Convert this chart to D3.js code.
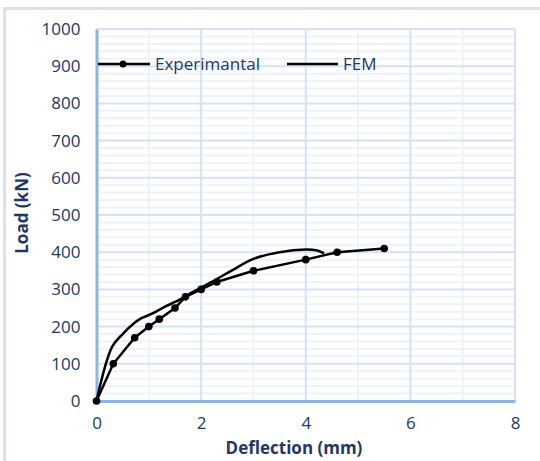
<!DOCTYPE html>
<html>
<head>
<meta charset="utf-8">
<script src="https://cdn.jsdelivr.net/npm/d3@7"></script>
<style>
  body { margin: 0; background: #fff; }
  svg { display: block; font-family: "Open Sans", Lato, sans-serif; }
</style>
</head>
<body>
<svg id="chart" width="540" height="461"></svg>
<script>
// experimental test points (mm, kN)
const expDefl = [0, 0.32, 0.73, 1.0, 1.2, 1.5, 1.7, 2.0, 2.3, 3.0, 4.0, 4.6, 5.5]
const expLoad = [0, 100, 170, 200, 220, 250, 280, 300, 320, 350, 380, 400, 410]

// FEM curve
const femDefl = [0, 0.3, 0.5, 0.7, 0.85, 1.05, 1.3, 1.6, 1.8, 2.0, 2.3, 2.6, 3.0, 3.5, 4.0, 4.2, 4.35]
const femLoad = [0, 146, 180, 207, 222, 234, 253, 273, 290, 305, 328, 352, 382, 400, 407, 405, 397]

const xTicks = [0, 2, 4, 6, 8]
const yTicks = [0, 100, 200, 300, 400, 500, 600, 700, 800, 900, 1000]

const textColor = '#203864'
const fontSize = '17px'
const svg = d3.select('#chart')

const x = d3.scaleLinear().domain([0, 8]).range([96.5, 515])
const y = d3.scaleLinear().domain([0, 1000]).range([401, 29])

// outer chart border (only top + left visible)
svg.append('path')
  .attr('d', 'M4.5,461 L4.5,8.5 L540,8.5')
  .attr('fill', 'none')
  .attr('stroke', '#d7e3f3')
  .attr('stroke-width', 3)

// gridlines: minor first, then major
const grid = svg.append('g')
grid.selectAll('.hmin')
  .data(d3.range(0, 1001, 20).filter(v => v % 100 !== 0))
  .join('line')
  .attr('x1', x(0)).attr('x2', x(8))
  .attr('y1', d => y(d)).attr('y2', d => y(d))
  .attr('stroke', '#eef3fa').attr('stroke-width', 2)
grid.selectAll('.vmin')
  .data([1, 3, 5, 7])
  .join('line')
  .attr('x1', d => x(d)).attr('x2', d => x(d))
  .attr('y1', y(0)).attr('y2', y(1000))
  .attr('stroke', '#eef3fa').attr('stroke-width', 2)
grid.selectAll('.hmaj')
  .data(yTicks.slice(1))
  .join('line')
  .attr('x1', x(0)).attr('x2', x(8))
  .attr('y1', d => y(d)).attr('y2', d => y(d))
  .attr('stroke', '#d5e2f3').attr('stroke-width', 2)
grid.selectAll('.vmaj')
  .data(xTicks.slice(1))
  .join('line')
  .attr('x1', d => x(d)).attr('x2', d => x(d))
  .attr('y1', y(0)).attr('y2', y(1000))
  .attr('stroke', '#d5e2f3').attr('stroke-width', 2)

// axes
const xAxis = svg.append('g')
  .attr('transform', `translate(0,${y(0)})`)
  .call(d3.axisBottom(x).tickValues(xTicks).tickFormat(d3.format('d')).tickSize(0).tickPadding(16))
const yAxis = svg.append('g')
  .attr('transform', `translate(${x(0)},0)`)
  .call(d3.axisLeft(y).tickValues(yTicks).tickFormat(d3.format('d')).tickSize(0).tickPadding(16))
for (const ax of [xAxis, yAxis]) {
  ax.select('.domain').attr('stroke', '#8db4e2').attr('stroke-width', 3)
  ax.selectAll('text')
    .attr('fill', textColor)
    .style('font-size', fontSize)
    .style('font-family', '"Open Sans", sans-serif')
}

// axis titles
svg.append('text')
  .attr('x', 294).attr('y', 454)
  .attr('text-anchor', 'middle')
  .attr('fill', textColor)
  .style('font-size', fontSize).style('font-weight', 'bold')
  .text('Deflection (mm)')
svg.append('text')
  .attr('transform', 'translate(28,213) rotate(-90)')
  .attr('text-anchor', 'middle')
  .attr('fill', textColor)
  .style('font-size', fontSize).style('font-weight', 'bold')
  .text('Load (kN)')

// series
const expData = expDefl.map((d, i) => ({ x: d, y: expLoad[i] }))
const femData = femDefl.map((d, i) => ({ x: d, y: femLoad[i] }))

svg.append('path')
  .attr('d', d3.line().x(d => x(d.x)).y(d => y(d.y)).curve(d3.curveCatmullRom)(femData))
  .attr('fill', 'none').attr('stroke', '#000').attr('stroke-width', 2.5)

svg.append('path')
  .attr('d', d3.line().x(d => x(d.x)).y(d => y(d.y))(expData))
  .attr('fill', 'none').attr('stroke', '#000').attr('stroke-width', 2.5)

svg.append('g').selectAll('circle')
  .data(expData)
  .join('circle')
  .attr('cx', d => x(d.x)).attr('cy', d => y(d.y))
  .attr('r', 3.8).attr('fill', '#000')

// legend
const lg = svg.append('g')
lg.append('line').attr('x1', 98).attr('x2', 150).attr('y1', 64).attr('y2', 64)
  .attr('stroke', '#000').attr('stroke-width', 2.5)
lg.append('circle').attr('cx', 123).attr('cy', 64).attr('r', 3.5).attr('fill', '#000')
lg.append('text').attr('x', 155).attr('y', 70)
  .attr('fill', textColor).style('font-size', fontSize)
  .text('Experimantal')
lg.append('line').attr('x1', 287).attr('x2', 338).attr('y1', 64).attr('y2', 64)
  .attr('stroke', '#000').attr('stroke-width', 2.5)
lg.append('text').attr('x', 343).attr('y', 70)
  .attr('fill', textColor).style('font-size', fontSize)
  .text('FEM')
</script>
</body>
</html>
